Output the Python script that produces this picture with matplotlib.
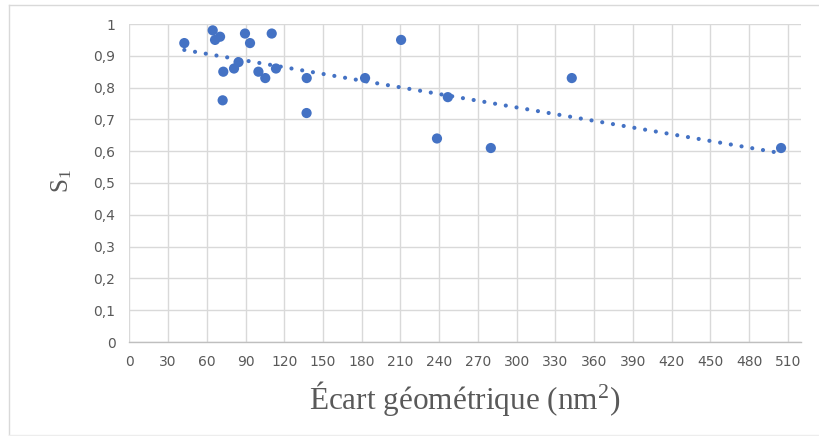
import numpy as np
import matplotlib
matplotlib.use("Agg")
import matplotlib.pyplot as plt
from matplotlib.lines import Line2D

plt.rcParams["mathtext.fontset"] = "custom"
plt.rcParams["mathtext.rm"] = "Liberation Serif"
plt.rcParams["mathtext.it"] = "Liberation Serif:italic"

# Data
ecart = [42.6, 64.6, 70.3, 66.4, 89.6, 93.5, 110.3, 72.8, 72.3, 84.6, 81.1,
         100.0, 105.3, 113.6, 137.4, 137.3, 210.5, 182.6, 246.7, 238.3,
         280.0, 342.7, 504.8]
s1 = [0.94, 0.98, 0.96, 0.95, 0.97, 0.94, 0.97, 0.85, 0.76, 0.88, 0.86,
      0.85, 0.83, 0.86, 0.83, 0.72, 0.95, 0.83, 0.77, 0.64,
      0.61, 0.83, 0.61]
x_ticks = list(range(0, 511, 30))
y_ticks = [0, 0.1, 0.2, 0.3, 0.4, 0.5, 0.6, 0.7, 0.8, 0.9, 1.0]
y_labels = ["0", "0,1", "0,2", "0,3", "0,4", "0,5", "0,6", "0,7", "0,8", "0,9", "1"]

W, H = 819, 436
fig = plt.figure(figsize=(W / 100, H / 100), dpi=100)
ax = fig.add_axes([129.3 / W, (H - 342) / H, (800.7 - 129.3) / W, 318 / H])

blue = "#4472C4"
grid_c = "#D9D9D9"
txt_c = "#595959"

ax.set_xlim(0, 520)
ax.set_ylim(0, 1)
ax.set_xticks(x_ticks)
ax.set_yticks(y_ticks)
ax.set_yticklabels(y_labels)
ax.grid(True, color=grid_c, linewidth=1.0)
ax.set_axisbelow(True)
for side in ["left", "right", "top"]:
    ax.spines[side].set_visible(False)
ax.spines["bottom"].set_color("#BFBFBF")
ax.spines["bottom"].set_linewidth(1.0)
ax.tick_params(axis="both", length=0, colors=txt_c, labelsize=10)
ax.tick_params(axis="x", pad=9)
ax.tick_params(axis="y", pad=10)
for lab in ax.get_xticklabels() + ax.get_yticklabels():
    lab.set_fontfamily("Liberation Sans Narrow")

# Linear trendline
xa = np.array(ecart)
ya = np.array(s1)
coef = np.polyfit(xa, ya, 1)
xt = np.array([xa.min(), xa.max()])
ax.plot(xt, np.polyval(coef, xt), color=blue, linewidth=3.0,
        linestyle=(0, (0.01, 2.6)), dash_capstyle="round", zorder=2)

ax.scatter(ecart, s1, s=54, color=blue, edgecolors="none", zorder=3)

fig.text(465 / W, 1 - 398 / H, r"Écart géométrique (nm$^{\mathregular{2}}$)",
         fontsize=22.5, color=txt_c, family="Liberation Serif",
         ha="center", va="center")
fig.text(62 / W, 1 - 181 / H, r"S$_{\mathregular{1}}$", fontsize=18, color=txt_c,
         family="Liberation Serif", rotation=90, ha="center", va="center")

# Chart border
fig.add_artist(Line2D([9 / W, 9 / W], [0, 1 - 5 / H], transform=fig.transFigure,
                      color="#D9D9D9", linewidth=1))
fig.add_artist(Line2D([9 / W, 1], [1 - 5 / H, 1 - 5 / H], transform=fig.transFigure,
                      color="#D9D9D9", linewidth=1))
fig.add_artist(Line2D([9 / W, 1], [1.5 / H, 1.5 / H], transform=fig.transFigure,
                      color="#EDEDED", linewidth=1))

fig.savefig("out.png", dpi=100)
